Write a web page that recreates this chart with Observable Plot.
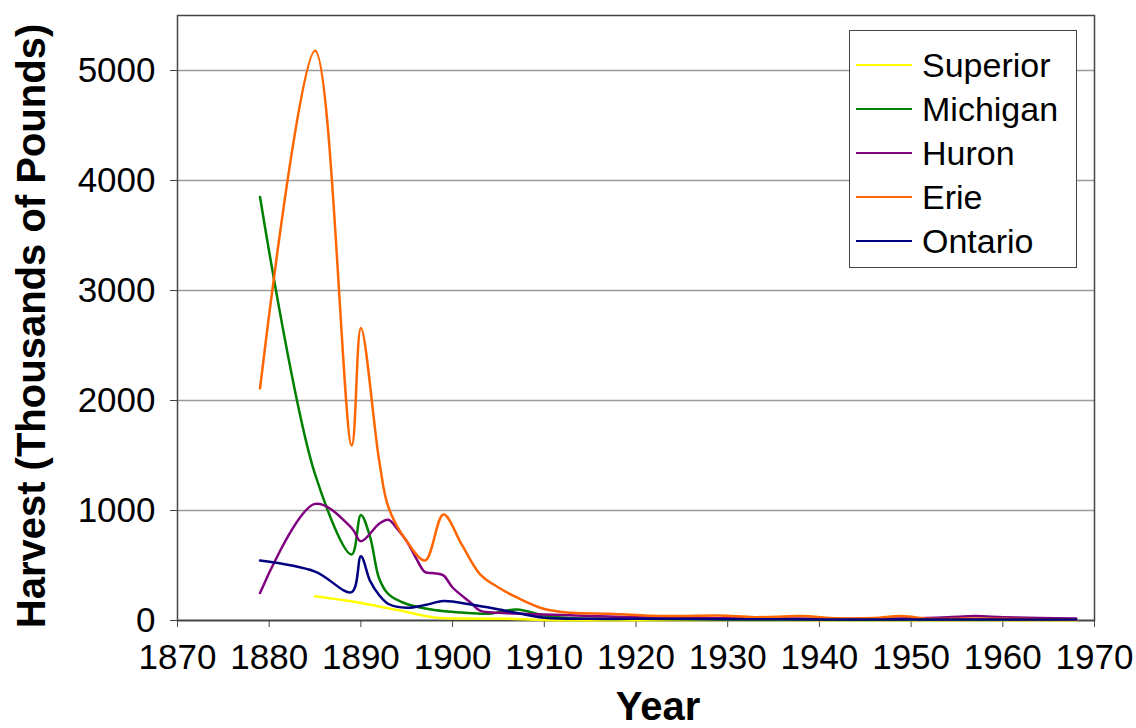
<!DOCTYPE html>
<html>
<head>
<meta charset="utf-8">
<script src="https://cdn.jsdelivr.net/npm/d3@7"></script>
<script src="https://cdn.jsdelivr.net/npm/@observablehq/plot@0.6"></script>
<style>
  html, body { margin: 0; padding: 0; background: #fff; }
  #wrap { position: relative; width: 1136px; height: 728px; font-family: "Liberation Sans", Arial, sans-serif; }
  #legend { position: absolute; left: 849px; top: 30px; width: 228px; height: 238px; background: #fff; border: 1.5px solid #444; box-sizing: border-box; }
  .item { position: absolute; left: 0; height: 44px; display: flex; align-items: center; }
  .swatch { width: 56px; height: 0; border-top: 2px solid; margin-left: 6px; margin-right: 10px; }
  .label { font-size: 34px; color: #000; line-height: 1; }
</style>
</head>
<body>
<div id="wrap">
  <div id="chart"></div>
  <div id="legend"></div>
</div>
<script>
// ---- data ----
const lakes = ["Superior", "Michigan", "Huron", "Erie", "Ontario"];
const lakeColors = ["#FFFF00", "#008000", "#800080", "#FF6600", "#000080"];

const superiorYears = [1885, 1890, 1894, 1898, 1902, 1906, 1910, 1920, 1930, 1940, 1950, 1960, 1968];
const superiorValues = [220, 160, 95, 28, 18, 15, 5, 3, 5, 3, 3, 3, 3];

const michiganYears = [1879, 1885, 1889, 1890, 1891, 1892, 1893, 1895, 1898, 1901, 1904, 1907, 1910, 1913, 1920, 1930, 1940, 1950, 1960, 1968];
const michiganValues = [3850, 1330, 600, 960, 760, 380, 240, 150, 95, 72, 62, 100, 45, 20, 15, 10, 8, 8, 10, 10];

const huronYears = [1879, 1885, 1889, 1890, 1892, 1893, 1894, 1895, 1896, 1897, 1898, 1899, 1900, 1902, 1903, 1905, 1910, 1915, 1920, 1925, 1930, 1935, 1940, 1945, 1950, 1954, 1957, 1960, 1964, 1968];
const huronValues = [250, 1060, 840, 720, 880, 915, 830, 720, 570, 440, 430, 410, 300, 160, 90, 70, 55, 40, 30, 25, 20, 20, 15, 15, 20, 30, 40, 30, 22, 18];

const erieYears = [1879, 1885, 1889, 1890, 1892, 1893, 1895, 1897, 1899, 1901, 1903, 1905, 1907, 1910, 1913, 1917, 1920, 1924, 1929, 1933, 1938, 1942, 1946, 1949, 1952, 1956, 1960, 1964, 1968];
const erieValues = [2110, 5180, 1590, 2660, 1450, 1030, 720, 546, 964, 690, 420, 300, 210, 105, 70, 62, 50, 40, 45, 30, 40, 20, 22, 40, 15, 18, 15, 12, 10];

const ontarioYears = [1879, 1885, 1889, 1890, 1891, 1892, 1893, 1895, 1897, 1899, 1902, 1906, 1910, 1915, 1920, 1930, 1940, 1950, 1960, 1968];
const ontarioValues = [545, 445, 258, 585, 360, 230, 150, 115, 140, 177, 145, 85, 25, 15, 15, 12, 10, 10, 10, 10];

const xTicks = [1870, 1880, 1890, 1900, 1910, 1920, 1930, 1940, 1950, 1960, 1970];
const yTicks = [0, 1000, 2000, 3000, 4000, 5000];
const xTitle = "Year";
const yTitle = "Harvest (Thousands of Pounds)";

// ---- build table ----
const series = {
  Superior: [superiorYears, superiorValues],
  Michigan: [michiganYears, michiganValues],
  Huron: [huronYears, huronValues],
  Erie: [erieYears, erieValues],
  Ontario: [ontarioYears, ontarioValues]
};
const rows = lakes.flatMap(lake => {
  const [ys, vs] = series[lake];
  return ys.map((year, i) => ({lake, year, value: vs[i]}));
});

const font = "'Liberation Sans', Arial, sans-serif";

const chart = Plot.plot({
  width: 1136,
  height: 728,
  marginLeft: 177,
  marginRight: 42,
  marginTop: 15,
  marginBottom: 108,
  style: {fontFamily: font, background: "#fff", color: "#000"},
  x: {domain: [1870, 1970], label: null},
  y: {domain: [0, 5500], label: null},
  color: {domain: lakes, range: lakeColors},
  marks: [
    Plot.gridY(yTicks.filter(d => d > 0), {stroke: "#9a9a9a", strokeOpacity: 1, strokeWidth: 1.5}),
    Plot.ruleY([0], {stroke: "#888", strokeWidth: 2}),
    Plot.frame({stroke: "#444", strokeWidth: 1.5}),
    Plot.axisY({ticks: yTicks, tickSize: 7, tickPadding: 15, fontSize: 35, tickFormat: d => String(d), stroke: "#444"}),
    Plot.axisX({ticks: xTicks, tickSize: 7, tickPadding: 17, fontSize: 35, tickFormat: d => String(d), stroke: "#444"}),
    Plot.line(rows, {x: "year", y: "value", z: "lake", stroke: "lake", strokeWidth: 2.5, curve: "catmull-rom"}),
    Plot.text([xTitle], {frameAnchor: "bottom", text: d => d, dy: 99, dx: 22, fontSize: 40, fontWeight: "bold", fill: "#000"}),
    Plot.text([yTitle], {frameAnchor: "left", text: d => d, textAnchor: "middle", dx: -145, dy: 8, rotate: -90, fontSize: 40, fontWeight: "bold", fill: "#000"})
  ]
});
document.getElementById("chart").appendChild(chart);

// ---- legend ----
const legend = document.getElementById("legend");
lakes.forEach((lake, i) => {
  const item = document.createElement("div");
  item.className = "item";
  item.style.top = (12 + i * 44) + "px";
  const sw = document.createElement("div");
  sw.className = "swatch";
  sw.style.borderTopColor = lakeColors[i];
  const lab = document.createElement("span");
  lab.className = "label";
  lab.textContent = lake;
  item.appendChild(sw);
  item.appendChild(lab);
  legend.appendChild(item);
});
</script>
</body>
</html>
